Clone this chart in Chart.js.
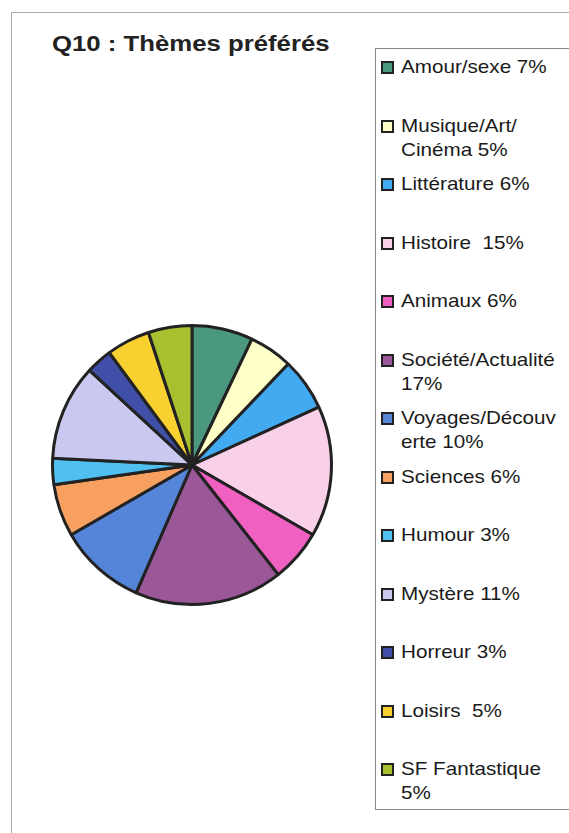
<!DOCTYPE html>
<html>
<head>
<meta charset="utf-8">
<script src="https://cdn.jsdelivr.net/npm/chart.js@4"></script>
<style>
  body { margin: 0; background: #fff; font-family: "Liberation Sans", Arial, sans-serif; }
  #page { position: relative; width: 569px; height: 833px; overflow: hidden; }
  #frame { position: absolute; left: 11px; top: 12px; width: 600px; height: 900px; border: 1px solid #aaa; }
  #title { position: absolute; left: 52px; top: 31px; font-size: 22px; font-weight: bold; color: #222;
           white-space: pre; transform: scaleX(1.17); transform-origin: left top; }
  #pie { position: absolute; left: 42px; top: 315px; }
  #legend { position: absolute; left: 375px; top: 48px; width: 200px; height: 760px; border: 1px solid #888; }
  .item { position: absolute; left: 5px; }
  .box { position: absolute; left: 0; top: 6px; width: 9px; height: 9px; border: 2px solid #222; }
  .txt { position: absolute; left: 20px; top: 0; font-size: 18.6px; line-height: 24px; color: #1a1a1a;
         white-space: pre; transform: scaleX(1.11); transform-origin: left top; }
</style>
</head>
<body>
<div id="page">
  <div id="frame"></div>
  <div id="title">Q10 : Thèmes préférés</div>
  <canvas id="pie" width="300" height="300"></canvas>
  <div id="legend"></div>
</div>
<script>
const categories = ['Amour/sexe', 'Musique/Art/Cinéma', 'Littérature', 'Histoire', 'Animaux',
  'Société/Actualité', 'Voyages/Découverte', 'Sciences', 'Humour', 'Mystère', 'Horreur', 'Loisirs', 'SF Fantastique'];
const values = [7, 5, 6, 15, 6, 17, 10, 6, 3, 11, 3, 5, 5];
// legend text as it wraps in the original
const legendLines = [
  ['Amour/sexe 7%'],
  ['Musique/Art/', 'Cinéma 5%'],
  ['Littérature 6%'],
  ['Histoire  15%'],
  ['Animaux 6%'],
  ['Société/Actualité', '17%'],
  ['Voyages/Découv', 'erte 10%'],
  ['Sciences 6%'],
  ['Humour 3%'],
  ['Mystère 11%'],
  ['Horreur 3%'],
  ['Loisirs  5%'],
  ['SF Fantastique', '5%']
];
const colors = ['#4a9880', '#ffffc8', '#42aaf0', '#f8d0e8', '#f060c0', '#9b5898', '#5585d8',
  '#f8a060', '#50c0f0', '#c8c8f0', '#4050a8', '#f8d030', '#a8c030'];

new Chart(document.getElementById('pie'), {
  type: 'pie',
  data: {
    labels: categories,
    datasets: [{
      data: values,
      backgroundColor: colors,
      borderColor: '#222',
      borderWidth: 3
    }]
  },
  options: {
    responsive: false,
    animation: false,
    layout: { padding: 9 },
    plugins: { legend: { display: false }, tooltip: { enabled: false } }
  }
});

const legend = document.getElementById('legend');
legendLines.forEach((lines, i) => {
  const item = document.createElement('div');
  item.className = 'item';
  item.style.top = (6 + i * 58.5) + 'px';
  const box = document.createElement('div');
  box.className = 'box';
  box.style.background = colors[i];
  const txt = document.createElement('div');
  txt.className = 'txt';
  txt.textContent = lines.join('\n');
  item.appendChild(box);
  item.appendChild(txt);
  legend.appendChild(item);
});
</script>
</body>
</html>
